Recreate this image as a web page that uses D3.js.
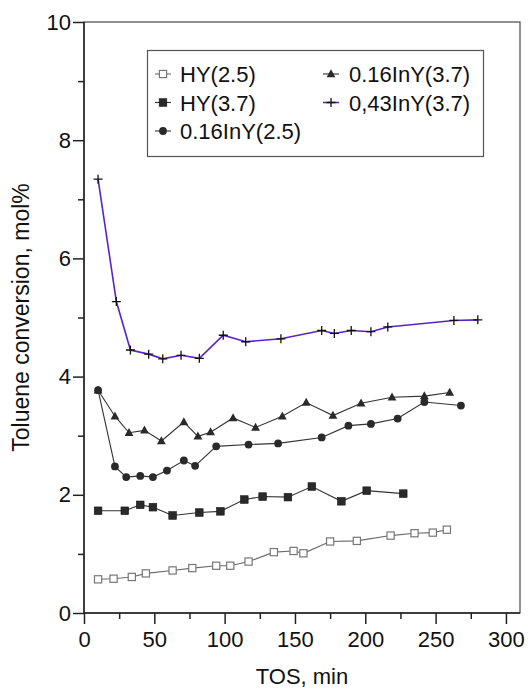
<!DOCTYPE html>
<html>
<head>
<meta charset="utf-8">
<script src="https://cdn.jsdelivr.net/npm/d3@7"></script>
<style>
  body { margin: 0; background: #fff; }
  svg { display: block; font-family: "Liberation Sans", Arial, sans-serif; }
  .axis path, .axis line { stroke: #222; stroke-width: 1.5; }
  .axis text { font-size: 22px; fill: #111; }
</style>
</head>
<body>
<svg id="chart" width="528" height="689"></svg>
<script>
// TOS (min) and toluene conversion (mol%)
const hy25X = [10, 21, 34, 44, 63, 77, 94, 104, 117, 135, 149, 156, 175, 194, 218, 235, 248, 258];
const hy25Y = [0.57, 0.58, 0.61, 0.67, 0.72, 0.76, 0.80, 0.80, 0.87, 1.03, 1.05, 1.01, 1.21, 1.22, 1.31, 1.35, 1.36, 1.41];

const hy37X = [10, 29, 40, 49, 63, 82, 97, 114, 127, 145, 162, 183, 201, 227];
const hy37Y = [1.73, 1.73, 1.83, 1.79, 1.65, 1.70, 1.72, 1.92, 1.97, 1.96, 2.14, 1.89, 2.07, 2.02];

const in25X = [10, 22, 30, 40, 49, 59, 71, 79, 94, 117, 138, 169, 188, 204, 223, 242, 268];
const in25Y = [3.77, 2.48, 2.30, 2.32, 2.30, 2.41, 2.58, 2.49, 2.82, 2.85, 2.87, 2.97, 3.17, 3.20, 3.29, 3.57, 3.51];

const in37X = [10, 22, 32, 43, 55, 71, 81, 90, 106, 122, 141, 158, 177, 197, 219, 242, 260];
const in37Y = [3.77, 3.33, 3.05, 3.09, 2.91, 3.23, 2.99, 3.06, 3.30, 3.14, 3.33, 3.56, 3.34, 3.55, 3.65, 3.67, 3.73];

const in43X = [10, 23, 33, 46, 56, 69, 82, 99, 115, 140, 169, 178, 190, 204, 216, 263, 280];
const in43Y = [7.34, 5.27, 4.45, 4.38, 4.30, 4.36, 4.31, 4.70, 4.59, 4.64, 4.78, 4.73, 4.78, 4.76, 4.84, 4.95, 4.96];

const xTicks = [0, 50, 100, 150, 200, 250, 300];
const yTicks = [0, 2, 4, 6, 8, 10];

const series = [
    { name: "HY(2.5)", xs: hy25X, ys: hy25Y, symbol: "openSquare", line: "#6a6a6a" },
    { name: "HY(3.7)", xs: hy37X, ys: hy37Y, symbol: "square", line: "#333" },
    { name: "0.16InY(2.5)", xs: in25X, ys: in25Y, symbol: "circle", line: "#333" },
    { name: "0.16InY(3.7)", xs: in37X, ys: in37Y, symbol: "triangle", line: "#333" },
    { name: "0,43InY(3.7)", xs: in43X, ys: in43Y, symbol: "plus", line: "#5a22c8" }
];

const svg = d3.select("#chart");
const margin = { left: 84, top: 22, right: 8, bottom: 76 };
const width = 528 - margin.left - margin.right;
const height = 689 - margin.top - margin.bottom;

const x = d3.scaleLinear().domain([0, 310]).range([0, width]);
const y = d3.scaleLinear().domain([0, 10]).range([height, 0]);

const g = svg.append("g").attr("transform", `translate(${margin.left},${margin.top})`);

// frame
g.append("rect")
    .attr("width", width).attr("height", height)
    .attr("fill", "none").attr("stroke", "#555").attr("stroke-width", 1.3);

// minor ticks
g.append("g").attr("class", "axis")
    .attr("transform", `translate(0,${height})`)
    .call(d3.axisBottom(x).tickValues(d3.range(25, 310, 50)).tickSize(6).tickFormat(""))
    .call(s => s.select(".domain").remove());
g.append("g").attr("class", "axis")
    .call(d3.axisLeft(y).tickValues(d3.range(1, 10, 2)).tickSize(6).tickFormat(""))
    .call(s => s.select(".domain").remove());

// major axes
g.append("g").attr("class", "axis")
    .attr("transform", `translate(0,${height})`)
    .call(d3.axisBottom(x).tickValues(xTicks).tickSize(11).tickPadding(7).tickSizeOuter(0))
    .call(s => s.select(".domain").attr("d", `M0,0H${width}`));
g.append("g").attr("class", "axis")
    .call(d3.axisLeft(y).tickValues(yTicks).tickSize(11).tickPadding(2).tickSizeOuter(0))
    .call(s => s.select(".domain").attr("d", `M0,0V${height}`));

// axis titles
svg.append("text")
    .attr("x", margin.left + width / 2).attr("y", 684)
    .attr("text-anchor", "middle").attr("font-size", 22).attr("fill", "#111")
    .text("TOS, min");
svg.append("text")
    .attr("transform", `translate(29,${margin.top + height / 2}) rotate(-90)`)
    .attr("text-anchor", "middle").attr("font-size", 23).attr("fill", "#111")
    .text("Toluene conversion, mol%");

function drawSymbol(sel, type) {
    if (type === "openSquare") {
        sel.append("rect").attr("x", -3.6).attr("y", -3.6).attr("width", 7.2).attr("height", 7.2)
            .attr("fill", "#fff").attr("stroke", "#777").attr("stroke-width", 1.2);
    } else if (type === "square") {
        sel.append("rect").attr("x", -3.8).attr("y", -3.8).attr("width", 7.6).attr("height", 7.6)
            .attr("fill", "#2a2a2a").attr("stroke", "#111").attr("stroke-width", 0.6);
    } else if (type === "circle") {
        sel.append("circle").attr("r", 3.9).attr("fill", "#2a2a2a");
    } else if (type === "triangle") {
        sel.append("path").attr("d", "M0,-4.8L4.4,3.2L-4.4,3.2Z").attr("fill", "#2a2a2a");
    } else if (type === "plus") {
        sel.append("path").attr("d", "M-4.5,0H4.5M0,-4.5V4.5")
            .attr("stroke", "#111").attr("stroke-width", 1.3).attr("fill", "none");
    }
}

const line = d3.line().x(d => x(d[0])).y(d => y(d[1]));

series.forEach(s => {
    const pts = s.xs.map((v, i) => [v, s.ys[i]]);
    g.append("path")
        .datum(pts)
        .attr("d", line)
        .attr("fill", "none")
        .attr("stroke", s.line)
        .attr("stroke-width", s.symbol === "plus" ? 1.6 : 1.1);
    g.selectAll(null)
        .data(pts)
        .join("g")
        .attr("transform", d => `translate(${x(d[0])},${y(d[1])})`)
        .each(function () { drawSymbol(d3.select(this), s.symbol); });
});

// legend
const legend = svg.append("g");
legend.append("rect")
    .attr("x", 147.5).attr("y", 50.5).attr("width", 336).attr("height", 106)
    .attr("fill", "#fff").attr("stroke", "#555").attr("stroke-width", 1.2);

const legendPos = [
    { col: 0, row: 0 }, { col: 0, row: 1 }, { col: 0, row: 2 },
    { col: 1, row: 0 }, { col: 1, row: 1 }
];
series.forEach((s, i) => {
    const p = legendPos[i];
    const lx = p.col === 0 ? 155 : 323;
    const ly = 74 + p.row * 28.5;
    const item = legend.append("g").attr("transform", `translate(${lx},${ly})`);
    item.append("line").attr("x1", 0).attr("x2", 16).attr("y1", 0).attr("y2", 0)
        .attr("stroke", s.line).attr("stroke-width", s.symbol === "plus" ? 1.6 : 1.1);
    const sym = item.append("g").attr("transform", "translate(8,0)");
    drawSymbol(sym, s.symbol);
    item.append("text")
        .attr("x", p.col === 0 ? 25 : 26).attr("y", 8)
        .attr("font-size", 22).attr("fill", "#111")
        .text(s.name);
});
</script>
</body>
</html>
